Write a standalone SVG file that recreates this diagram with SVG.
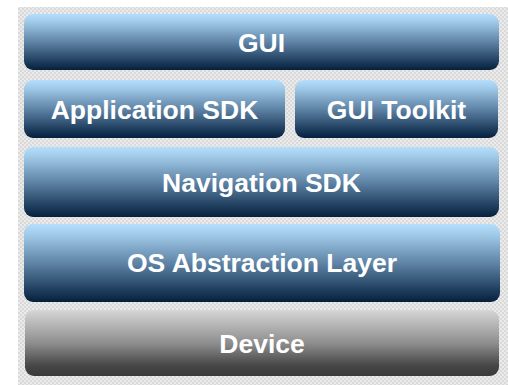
<svg xmlns="http://www.w3.org/2000/svg" width="508" height="385" viewBox="0 0 508 385">
  <defs>
    <!-- fine grey checker backdrop -->
    <pattern id="checker" width="4" height="4" patternUnits="userSpaceOnUse">
      <rect width="4" height="4" fill="#d9d9d9"/>
      <rect width="2" height="2" fill="#ebebeb"/>
      <rect x="2" y="2" width="2" height="2" fill="#ebebeb"/>
    </pattern>
    <linearGradient id="blue" x1="0" y1="0" x2="0" y2="1">
      <stop offset="0" stop-color="#b3defd"/>
      <stop offset="0.12" stop-color="#a4cdeb"/>
      <stop offset="0.5" stop-color="#5f84a6"/>
      <stop offset="0.85" stop-color="#1e3d5d"/>
      <stop offset="1" stop-color="#06203c"/>
    </linearGradient>
    <linearGradient id="grey" x1="0" y1="0" x2="0" y2="1">
      <stop offset="0" stop-color="#d6d6d6"/>
      <stop offset="0.5" stop-color="#8e8e8e"/>
      <stop offset="0.85" stop-color="#454545"/>
      <stop offset="1" stop-color="#3a3a3a"/>
    </linearGradient>
    <style>
      .layer { fill: url(#blue); }
      .hw { fill: url(#grey); }
      .label { font-family: "Liberation Sans", Arial, sans-serif; font-weight: bold; font-size: 26.5px; fill: #ffffff; text-anchor: middle; }
    </style>
  </defs>

  <rect x="18" y="7" width="490" height="378" fill="url(#checker)"/>

  <g id="gui">
    <rect class="layer" x="24" y="14" width="475" height="56" rx="9"/>
    <text class="label" x="261.5" y="52">GUI</text>
  </g>

  <g id="application-sdk">
    <rect class="layer" x="24" y="80" width="261" height="58" rx="9"/>
    <text class="label" x="154.5" y="119">Application SDK</text>
  </g>

  <g id="gui-toolkit">
    <rect class="layer" x="295" y="80" width="203" height="58" rx="9"/>
    <text class="label" x="396.5" y="119">GUI Toolkit</text>
  </g>

  <g id="navigation-sdk">
    <rect class="layer" x="24" y="147" width="475" height="70" rx="9"/>
    <text class="label" x="261.5" y="192">Navigation SDK</text>
  </g>

  <g id="os-abstraction-layer">
    <rect class="layer" x="24" y="224" width="476" height="78" rx="9"/>
    <text class="label" x="262" y="272">OS Abstraction Layer</text>
  </g>

  <g id="device">
    <rect class="hw" x="25" y="310" width="474" height="66" rx="9"/>
    <text class="label" x="262" y="352.5">Device</text>
  </g>

  <g id="connectors"/>
</svg>
